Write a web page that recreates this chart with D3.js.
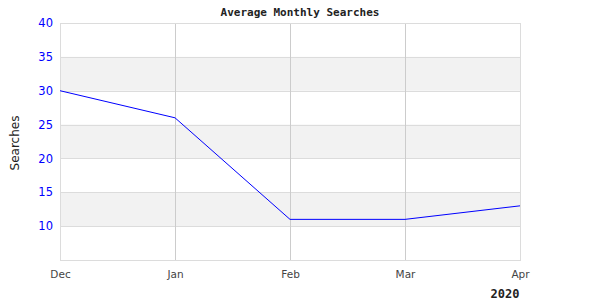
<!DOCTYPE html>
<html>
<head>
<meta charset="utf-8">
<script src="https://cdn.jsdelivr.net/npm/d3@7"></script>
<style>
  body { margin: 0; background: #fff; }
  svg { display: block; }
</style>
</head>
<body>
<div id="chart"></div>
<script>
const months = ["Dec", "Jan", "Feb", "Mar", "Apr"];
const searches = [30, 26, 11, 11, 13];
const yTicks = [10, 15, 20, 25, 30, 35, 40];
const bands = [[30, 35], [20, 25], [10, 15]];

const width = 600;
const height = 300;
const margin = {top: 23, right: 80, bottom: 40, left: 60};

const svg = d3.select("#chart")
    .append("svg")
    .attr("width", width)
    .attr("height", height);

const x = d3.scalePoint()
    .domain(months)
    .range([margin.left, width - margin.right]);

const y = d3.scaleLinear()
    .domain([5, 40])
    .range([height - margin.bottom, margin.top]);

// shaded bands
svg.append("g")
    .selectAll("rect")
    .data(bands)
    .enter()
    .append("rect")
    .attr("x", margin.left)
    .attr("width", width - margin.right - margin.left)
    .attr("y", d => y(d[1]))
    .attr("height", d => y(d[0]) - y(d[1]))
    .attr("fill", "#f2f2f2");

// horizontal grid + y labels
const yAxis = svg.append("g")
    .attr("transform", `translate(${margin.left},0)`)
    .call(d3.axisLeft(y).tickValues(yTicks).tickSize(-(width - margin.right - margin.left)).tickPadding(7));
yAxis.select(".domain").remove();
yAxis.selectAll(".tick line").attr("stroke", "#dcdcdc").attr("shape-rendering", "crispEdges");
yAxis.selectAll(".tick text")
    .attr("fill", "#0000ff")
    .attr("font-family", "DejaVu Sans")
    .attr("font-size", 11.5);

// vertical grid + x labels
const xAxis = svg.append("g")
    .attr("transform", `translate(0,${height - margin.bottom})`)
    .call(d3.axisBottom(x).tickSize(-(height - margin.bottom - margin.top)).tickPadding(11));
xAxis.select(".domain").remove();
xAxis.selectAll(".tick line").attr("stroke", "#cccccc").attr("shape-rendering", "crispEdges");
xAxis.selectAll(".tick text")
    .attr("fill", "#444")
    .attr("font-family", "DejaVu Sans")
    .attr("font-size", 10.5);

// plot border
svg.append("rect")
    .attr("x", margin.left + 0.5)
    .attr("y", margin.top + 0.5)
    .attr("width", width - margin.right - margin.left)
    .attr("height", height - margin.bottom - margin.top)
    .attr("fill", "none")
    .attr("stroke", "#dcdcdc");

// line
const line = d3.line()
    .x((d, i) => x(months[i]))
    .y(d => y(d));

svg.append("path")
    .datum(searches)
    .attr("d", line)
    .attr("fill", "none")
    .attr("stroke", "#0000ff")
    .attr("stroke-width", 1);

// title
svg.append("text")
    .attr("x", 300)
    .attr("y", 16)
    .attr("text-anchor", "middle")
    .attr("font-family", "DejaVu Sans Mono")
    .attr("font-weight", "bold")
    .attr("font-size", 11)
    .attr("fill", "#222")
    .text("Average Monthly Searches");

// y axis title
svg.append("text")
    .attr("transform", "translate(19,143) rotate(-90)")
    .attr("text-anchor", "middle")
    .attr("font-family", "DejaVu Sans")
    .attr("font-size", 12)
    .attr("fill", "#222")
    .text("Searches");

// year label
svg.append("text")
    .attr("x", 505)
    .attr("y", 298)
    .attr("text-anchor", "middle")
    .attr("font-family", "DejaVu Sans Mono")
    .attr("font-weight", "bold")
    .attr("font-size", 12)
    .attr("fill", "#222")
    .text("2020");
</script>
</body>
</html>
